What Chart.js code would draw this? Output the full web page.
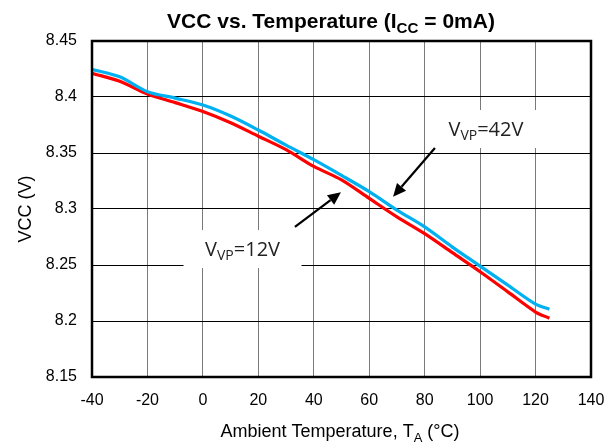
<!DOCTYPE html>
<html>
<head>
<meta charset="utf-8">
<script src="https://cdn.jsdelivr.net/npm/chart.js@4/dist/chart.umd.min.js"></script>
<style>
  html, body { margin: 0; padding: 0; background: #fff; }
  #wrap { width: 614px; height: 445px; }
</style>
</head>
<body>
<div id="wrap"><canvas id="vccChart"></canvas></div>
<script>
/* chart data */
const temps = [-40, -30, -20, -10, 0, 10, 20, 30, 40, 50, 60, 70, 80, 90, 100, 110, 120, 125];
const vcc42 = [8.4247, 8.418, 8.4047, 8.399, 8.3928, 8.383, 8.3705, 8.357, 8.344, 8.330, 8.3155, 8.299, 8.284, 8.266, 8.249, 8.232, 8.215, 8.2105];
const vcc12 = [8.4212, 8.414, 8.4027, 8.395, 8.387, 8.377, 8.365, 8.353, 8.338, 8.326, 8.3095, 8.293, 8.278, 8.261, 8.244, 8.226, 8.208, 8.2025];
const xTicks = [-40, -20, 0, 20, 40, 60, 80, 100, 120, 140];
const yTicks = [8.15, 8.2, 8.25, 8.3, 8.35, 8.4, 8.45];

// callouts: label centre + arrow tail/head, in data units
const callouts = [
  { sub: "VP", val: "=42V", at: [102.1, 8.3714], from: [83.7, 8.3545], to: [68.6, 8.311] },
  { sub: "VP", val: "=12V", at: [14.3, 8.2643], from: [33.2, 8.284], to: [49.8, 8.315] }
];

const FONT = "'Liberation Sans', Arial, sans-serif";
const CALLOUT_FONT = "'Open Sans', sans-serif";

function toPts(ys) {
  return temps.map((t, i) => ({ x: t, y: ys[i] }));
}

// draws text with a subscript part, centred on x
function drawSub(ctx, x, y, parts, size, bold) {
  const pieces = parts.map(p => {
    const fs = p.sub ? size * 0.72 : size;
    ctx.font = (bold ? "bold " : "") + fs + "px " + FONT;
    return { t: p.t, sub: p.sub, fs, w: ctx.measureText(p.t).width };
  });
  const total = pieces.reduce((a, p) => a + p.w, 0);
  let cx = x - total / 2;
  ctx.textAlign = "left";
  ctx.textBaseline = "alphabetic";
  pieces.forEach(p => {
    ctx.font = (bold ? "bold " : "") + p.fs + "px " + FONT;
    ctx.fillText(p.t, cx, p.sub ? y + size * 0.25 : y);
    cx += p.w;
  });
}

const decorPlugin = {
  id: "decor",
  afterDatasetsDraw(chart) {
    const { ctx, chartArea: a, scales: { x, y } } = chart;
    ctx.save();

    // plot frame
    ctx.strokeStyle = "#000";
    ctx.lineWidth = 2.5;
    ctx.strokeRect(a.left, a.top, a.right - a.left, a.bottom - a.top);

    // callouts
    callouts.forEach(c => {
      const px = x.getPixelForValue(c.at[0]);
      const py = y.getPixelForValue(c.at[1]);
      const bw = 118, bh = 38;
      ctx.fillStyle = "#fff";
      ctx.fillRect(px - bw / 2, py - bh / 2, bw, bh);

      ctx.fillStyle = "#222";
      const big = 20, small = 14;
      ctx.font = big + "px " + CALLOUT_FONT;
      const wV = ctx.measureText("V").width;
      const wT = ctx.measureText(c.val).width;
      ctx.font = small + "px " + CALLOUT_FONT;
      const wS = ctx.measureText(c.sub).width;
      const tx = px - (wV + wS + wT) / 2;
      const base = py + 7;
      ctx.textAlign = "left";
      ctx.textBaseline = "alphabetic";
      ctx.font = big + "px " + CALLOUT_FONT;
      ctx.fillText("V", tx, base);
      ctx.font = small + "px " + CALLOUT_FONT;
      ctx.fillText(c.sub, tx + wV, base + 4);
      ctx.font = big + "px " + CALLOUT_FONT;
      ctx.fillText(c.val, tx + wV + wS, base);

      // arrow
      const x0 = x.getPixelForValue(c.from[0]), y0 = y.getPixelForValue(c.from[1]);
      const x1 = x.getPixelForValue(c.to[0]), y1 = y.getPixelForValue(c.to[1]);
      const ang = Math.atan2(y1 - y0, x1 - x0);
      const hl = 13, hw = 6;
      const bx = x1 - hl * Math.cos(ang), by = y1 - hl * Math.sin(ang);
      ctx.strokeStyle = "#000";
      ctx.lineWidth = 2.2;
      ctx.beginPath();
      ctx.moveTo(x0, y0);
      ctx.lineTo(bx, by);
      ctx.stroke();
      ctx.fillStyle = "#000";
      ctx.beginPath();
      ctx.moveTo(x1, y1);
      ctx.lineTo(bx + hw * Math.sin(ang), by - hw * Math.cos(ang));
      ctx.lineTo(bx - hw * Math.sin(ang), by + hw * Math.cos(ang));
      ctx.closePath();
      ctx.fill();
    });

    // title
    ctx.fillStyle = "#000";
    drawSub(ctx, 331, 28, [{ t: "VCC vs. Temperature (I" }, { t: "CC", sub: true }, { t: " = 0mA)" }], 21, true);

    // x axis title
    drawSub(ctx, 340, 437, [{ t: "Ambient Temperature, T" }, { t: "A", sub: true }, { t: " (°C)" }], 18, false);

    // y axis title
    ctx.translate(31, (a.top + a.bottom) / 2);
    ctx.rotate(-Math.PI / 2);
    ctx.font = "18px " + FONT;
    ctx.textAlign = "center";
    ctx.textBaseline = "alphabetic";
    ctx.fillText("VCC (V)", 0, 0);

    ctx.restore();
  }
};

new Chart(document.getElementById("vccChart"), {
  type: "line",
  data: {
    datasets: [
      {
        label: "VVP=42V",
        data: toPts(vcc42),
        borderColor: "#00b0f0",
        borderWidth: 3.2,
        pointRadius: 0,
        tension: 0.3,
        fill: false
      },
      {
        label: "VVP=12V",
        data: toPts(vcc12),
        borderColor: "#ff0000",
        borderWidth: 3.2,
        pointRadius: 0,
        tension: 0.3,
        fill: false
      }
    ]
  },
  options: {
    responsive: true,
    maintainAspectRatio: false,
    animation: false,
    layout: { padding: { top: 41, right: 23, left: 0, bottom: 0 } },
    plugins: {
      legend: { display: false },
      tooltip: { enabled: false }
    },
    scales: {
      x: {
        type: "linear",
        min: -40,
        max: 140,
        afterBuildTicks: s => { s.ticks = xTicks.map(v => ({ value: v })); },
        afterFit: s => { s.height = 68; s.paddingLeft = 0; s.paddingRight = 0; },
        grid: { color: "#7a7a7a", lineWidth: 1, drawTicks: false },
        border: { display: false },
        ticks: {
          color: "#000",
          padding: 14,
          maxRotation: 0,
          font: { family: FONT, size: 16 }
        }
      },
      y: {
        min: 8.15,
        max: 8.45,
        afterBuildTicks: s => { s.ticks = yTicks.map(v => ({ value: v })); },
        afterFit: s => { s.width = 92; s.paddingTop = 0; s.paddingBottom = 0; },
        grid: { color: "#000", lineWidth: 1, drawTicks: false },
        border: { display: false },
        ticks: {
          color: "#000",
          padding: 15,
          font: { family: FONT, size: 16 },
          callback: v => String(Math.round(v * 100) / 100)
        }
      }
    }
  },
  plugins: [decorPlugin]
});
</script>
</body>
</html>
